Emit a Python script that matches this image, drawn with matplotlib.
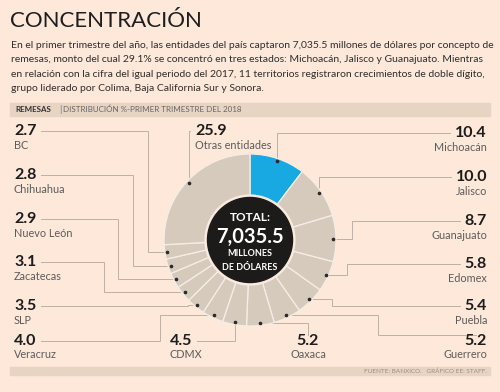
import matplotlib
matplotlib.use("Agg")
import matplotlib.pyplot as plt
import numpy as np
from matplotlib.patches import Rectangle, Circle

plt.rcParams['font.family'] = ['Lato', 'DejaVu Sans']

# data
names = ["Michoacán", "Jalisco", "Guanajuato", "Edomex", "Puebla", "Guerrero",
         "Oaxaca", "CDMX", "Veracruz", "SLP", "Zacatecas", "Nuevo León",
         "Chihuahua", "BC", "Otras entidades"]
values = [10.4, 10.0, 8.7, 5.8, 5.4, 5.2, 5.2, 4.5, 4.0, 3.5, 3.1, 2.9, 2.8, 2.7, 25.9]
total_txt = "7,035.5"

title = "CONCENTRACIÓN"
body = [
    "En el primer trimestre del año, las entidades del país captaron 7,035.5 millones de dólares por concepto de",
    "remesas, monto del cual 29.1% se concentró en tres estados: Michoacán, Jalisco y Guanajuato. Mientras",
    "en relación con la cifra del igual periodo del 2017, 11 territorios registraron crecimientos de doble dígito,",
    "grupo liderado por Colima, Baja California Sur y Sonora.",
]
header_bold = "REMESAS"
header_txt = "DISTRIBUCIÓN %-PRIMER TRIMESTRE DEL 2018"
source = "FUENTE: BANXICO.   GRÁFICO EE: STAFF."

# label layout (x, y of value, alignment)
label_pos = {
    "Michoacán": (487, 133, "right"),
    "Jalisco": (487, 177, "right"),
    "Guanajuato": (487, 221, "right"),
    "Edomex": (487, 264, "right"),
    "Puebla": (487, 306, "right"),
    "Guerrero": (487, 341, "right"),
    "Oaxaca": (308, 341, "center"),
    "CDMX": (170, 341, "left"),
    "Veracruz": (14, 341, "left"),
    "SLP": (14, 306, "left"),
    "Zacatecas": (14, 262, "left"),
    "Nuevo León": (14, 219, "left"),
    "Chihuahua": (14, 175, "left"),
    "BC": (14, 131, "left"),
    "Otras entidades": (195, 131, "left"),
}
# leader lines: side the line leaves the value, shape, elbow x
routes = {
    "Michoacán": ("l", "hv", None),
    "Jalisco": ("l", "hv", None),
    "Guanajuato": ("l", "hvh", 352),
    "Edomex": ("l", "hvh", 347),
    "Puebla": ("l", "hvh", 332),
    "Guerrero": ("t", "hvh", 378),
    "Oaxaca": ("t", "vh", None),
    "CDMX": ("r", "hv", None),
    "Veracruz": ("r", "hvh", 160),
    "SLP": ("r", "hvh", 188),
    "Zacatecas": ("r", "hvh", 104),
    "Nuevo León": ("r", "hvh", 118),
    "Chihuahua": ("r", "hvh", 133),
    "BC": ("r", "hvh", 148),
    "Otras entidades": ("l", "hv", None),
}

BG = "#fde8d9"
BAND = "#e8d4c3"
RING = "#d6cabd"
BLUE = "#18a8e2"
LINE = "#bdb1a5"

fig = plt.figure(figsize=(5, 3.92), dpi=100)
fig.patch.set_facecolor(BG)
ax = fig.add_axes([0, 0, 1, 1])

cx, cy, R = 250, 240, 86
colors = [BLUE] + [RING] * (len(values) - 1)
wedges, _ = ax.pie(values, colors=colors, radius=R, center=(cx, cy),
                   startangle=-90, counterclock=True,
                   wedgeprops=dict(width=41, edgecolor="#f6eee6", linewidth=0.9, zorder=2))
ax.set_xlim(0, 500)
ax.set_ylim(392, 0)
ax.set_aspect("auto")
ax.axis("off")
ax.add_patch(Circle((cx, cy), 42.5, color="#1d1b1a", zorder=3))

# centre text
ax.text(cx, 217, "TOTAL:", color="white", fontsize=8.5, fontweight="bold", ha="center", va="center", zorder=4)
ax.text(cx, 237, total_txt, color="white", fontsize=14.5, fontweight="bold", ha="center", va="center", zorder=4)
ax.text(cx, 254, "MILLONES", color="white", fontsize=6.5, fontweight="bold", ha="center", va="center", zorder=4)
ax.text(cx, 267, "DE DÓLARES", color="white", fontsize=6.5, fontweight="bold", ha="center", va="center", zorder=4)

# title and body
ax.text(10, 21, title, fontsize=16, color="#1e1e1e", ha="left", va="center", fontweight="normal")
for i, line in enumerate(body):
    ax.text(11, 45 + i * 14.5, line, fontsize=7.45, color="#2e2e2e", ha="left", va="center")

# header band
ax.add_patch(Rectangle((10, 102.5), 480, 13, color=BAND, zorder=1))
ax.text(15, 109, header_bold, fontsize=5.8, fontweight="bold", color="#333333", ha="left", va="center")
ax.text(60, 109, "|", fontsize=7, color="#777777", ha="center", va="center")
ax.text(63, 109, header_txt, fontsize=5.8, color="#666666", ha="left", va="center")

# footer band
ax.add_patch(Rectangle((10, 367), 480, 8, color=BAND, zorder=1))
ax.text(487, 371.2, source, fontsize=4.6, color="#9a8f86", ha="right", va="center")

renderer = fig.canvas.get_renderer()
inv = ax.transData.inverted()

for w, name, val in zip(wedges, names, values):
    x, y, ha = label_pos[name]
    vt = ax.text(x, y, f"{val:.1f}", fontsize=11.5, fontweight="bold", color="#1c1c1c", ha=ha, va="center")
    ax.text(x, y + 14, name, fontsize=7.8, color="#5c5c5c", ha=ha, va="center")

    th = np.radians((w.theta1 + w.theta2) / 2)
    dx = cx + 0.97 * R * np.cos(th)
    dy = cy + 0.97 * R * np.sin(th)

    bb = vt.get_window_extent(renderer)
    (bx0, by0), (bx1, by1) = inv.transform([[bb.x0, bb.y0], [bb.x1, bb.y1]])
    side, shape, elbow = routes[name]
    if side == "r":
        x0, y0 = bx1 + 5, y
    elif side == "l":
        x0, y0 = bx0 - 5, y
    else:
        x0, y0 = (bx0 + bx1) / 2, min(by0, by1) + 1

    if shape == "hv":
        pts = [(x0, y0), (dx, y0), (dx, dy)]
    elif shape == "hvh":
        pts = [(x0, y0), (elbow, y0), (elbow, dy), (dx, dy)]
    else:
        pts = [(x0, y0), (x0, dy), (dx, dy)]
    px, py = zip(*pts)
    ax.plot(px, py, color=LINE, lw=0.7, zorder=1.5, solid_joinstyle="miter")
    ax.plot(dx, dy, "o", color="#2a2a2a", ms=1.6, zorder=5)

fig.savefig("out.png", dpi=100, facecolor=BG)
